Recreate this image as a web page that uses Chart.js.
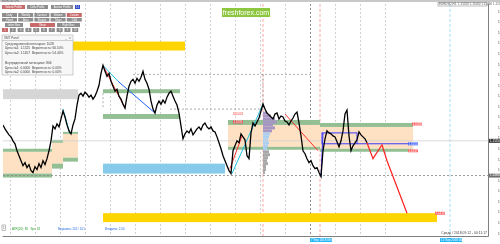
<!DOCTYPE html>
<html>
<head>
<meta charset="utf-8">
<script src="https://cdn.jsdelivr.net/npm/chart.js@4.4.1/dist/chart.umd.min.js"></script>
<style>
  html, body { margin: 0; padding: 0; background: #fff; }
  #wrap { width: 500px; height: 244px; }
</style>
</head>
<body>
<div id="wrap"><canvas id="chart" width="500" height="244"></canvas></div>
<script>
// EURUSD close, one value per bar (bar 0 = left edge)
const closePrices = [
  1.15859, 1.15784, 1.15727, 1.15671, 1.15633, 1.15558, 1.15502, 1.15370, 1.15276, 1.15182,
  1.15088, 1.15145, 1.15051, 1.15107, 1.14994, 1.14957, 1.15070, 1.15013, 1.15126, 1.15051,
  1.15182, 1.15107, 1.15220, 1.15370, 1.15558, 1.15840, 1.15784, 1.15878, 1.15821, 1.15972,
  1.16122, 1.16009, 1.15859, 1.15746, 1.15690, 1.15859, 1.15972, 1.16235, 1.16422, 1.16460,
  1.16404, 1.16479, 1.16441, 1.16385, 1.16422, 1.16347, 1.16404, 1.16498, 1.16610, 1.16836,
  1.16986, 1.16873, 1.16780, 1.16836, 1.16686, 1.16592, 1.16498, 1.16535, 1.16404, 1.16347,
  1.16253, 1.16178, 1.16404, 1.16592, 1.16686, 1.16723, 1.16648, 1.16742, 1.16686, 1.16761,
  1.16873, 1.16723, 1.16648, 1.16535, 1.16310, 1.16159, 1.16084, 1.16235, 1.16310, 1.16253,
  1.16329, 1.16272, 1.16385, 1.16460, 1.16498, 1.16404, 1.16310, 1.16235, 1.16084, 1.15840,
  1.15596, 1.15690, 1.15746, 1.15708, 1.15784, 1.15671, 1.15727, 1.15784, 1.15821, 1.15765,
  1.15859, 1.15896, 1.15821, 1.15784, 1.15821, 1.15746, 1.15727, 1.15633, 1.15521, 1.15408,
  1.15276, 1.15182, 1.15088, 1.14994, 1.14938, 1.15370, 1.15464, 1.15558, 1.15521, 1.15690,
  1.15633, 1.15577, 1.15276, 1.15220, 1.15708, 1.15896, 1.15840, 1.15915, 1.15990, 1.16122,
  1.16253, 1.16159, 1.16084, 1.16047, 1.16009, 1.15972, 1.16065, 1.16084, 1.15972, 1.16028,
  1.16009, 1.15934, 1.15915, 1.15859, 1.15934, 1.15990, 1.16065, 1.16103, 1.15896, 1.15652,
  1.15370, 1.15314, 1.15220, 1.15145, 1.15182, 1.15088, 1.15032, 1.15051, 1.14957, 1.14882,
  1.15370, 1.15596, 1.15746, 1.15708, 1.15690, 1.15652, 1.15633, 1.15539, 1.15445, 1.15558,
  1.15746, 1.16065, 1.16141, 1.15652, 1.15370, 1.15464, 1.15521, 1.15577, 1.15727, 1.15671,
  1.15633, 1.15596, 1.15521
];

// red forecast zigzag
const projectionBars = [182, 185, 189.5, 192, 202];
const projectionPrices = [1.15521, 1.15220, 1.15483, 1.15182, 1.14188];

const dateLabels = [
  '13 Aug 2018', '14 Aug 05:00', '15 Aug 05:00', '16 Aug 05:00', '17 Aug 05:00', '20 Aug 05:00',
  '21 Aug 05:00', '22 Aug 05:00', '23 Aug 05:00', '24 Aug 05:00', '27 Aug 05:00', '28 Aug 05:00',
  '29 Aug 05:00', '30 Aug 05:00', '31 Aug 05:00', '3 Sep 05:00', '4 Sep 05:00', '5 Sep 05:00',
  '6 Sep 05:00', '7 Sep 05:00', '10 Sep 05:00', '11 Sep 05:00'
];
const dateStep = 25 / 3;

const priceTicks = [
  1.1800, 1.1780, 1.1760, 1.1740, 1.1720, 1.1700, 1.1680, 1.1660, 1.1640, 1.1620, 1.1600,
  1.1580, 1.1560, 1.1540, 1.1520, 1.1500, 1.1480, 1.1460, 1.1440, 1.1420, 1.1400, 1.1380
];

// zones: [barFrom, barTo, priceTop, priceBottom]
const yellowZones = [[0, 91, 1.17437, 1.17268], [50, 217, 1.14188, 1.14019]];
const blueZone = [50, 111, 1.15126, 1.14938];
const grayZone = [0, 37.5, 1.16535, 1.16347];
const greenStrips = [[50, 88.5, 1.16535, 1.16460], [50, 88.5, 1.16065, 1.15972]];
// demand zones: [barFrom, barTo, greenTop, orangeTop, orangeBottom, greenBottom]
const demandZones = [
  [0, 24.5, 1.15408, 1.15351, 1.14938, 1.14863],
  [24.5, 30, 1.15577, 1.15521, 1.15126, 1.15032],
  [30, 37.5, 1.15727, 1.15690, 1.15239, 1.15164],
  [112.5, 158.5, 1.15953, 1.15859, 1.15445, 1.15389],
  [158.5, 205, 1.15896, 1.15821, 1.15408, 1.15351]
];
// zigzag segments: [bar0, price0, bar1, price1, colour]
const zigzags = [
  [50, 1.16986, 61, 1.16178, '#ff3030'],
  [50, 1.16986, 57.5, 1.16686, '#20c0e0'],
  [57.5, 1.16686, 76, 1.16084, '#2060ff'],
  [30, 1.16159, 33.5, 1.15690, '#20c0e0'],
  [113.5, 1.15032, 119.5, 1.15652, '#ff3030'],
  [114.5, 1.14938, 130, 1.16253, '#20c0e0'],
  [141, 1.16065, 157.5, 1.15370, '#ff3030'],
  [159, 1.14882, 160, 1.15708, '#3030ff']
];
// volume profile next to the red marker line
const profileStart = 130;
const profileLevels = [
  1.16084, 1.16028, 1.15972, 1.15915, 1.15859, 1.15802, 1.15746, 1.15690, 1.15633, 1.15577,
  1.15521, 1.15464, 1.15408, 1.15351, 1.15295, 1.15239, 1.15182, 1.15126, 1.15070, 1.15013, 1.14957
];
const profileWidths = [2, 4, 6, 7, 5, 6, 4.5, 3.5, 3, 2.5, 3, 2.5, 2, 3, 3.5, 2.5, 2, 2.5, 1.5, 1.5, 1];

const levelTags = [
  [207, 1.15877, '#ff6060'], [205, 1.15502, '#4060ff'], [205, 1.15370, '#ff6060'],
  [218.5, 1.14188, '#ff6060'], [117.5, 1.16075, '#ffb0b0'], [117.5, 1.15915, '#e05050']
];

const bidPrice = 1.15558;
const stopPrice = 1.14900;
const gridBars = [3.5, 16, 28.5, 41, 53.5, 66, 78.5, 91, 103.5, 116, 128.5, 141, 153.5, 166, 178.5, 191];
const markerBars = [130, 158.5];
const nowBar = 223.5;

const FONT = '"Liberation Sans", Arial, sans-serif';

const overlay = {
  id: 'overlay',
  beforeDatasetsDraw(chart) {
    const { ctx, chartArea: a, scales: { x, y } } = chart;
    const X = v => x.getPixelForValue(v);
    const Y = v => y.getPixelForValue(v);
    const box = (b0, b1, p0, p1, c) => { ctx.fillStyle = c; ctx.fillRect(X(b0), Y(p0), X(b1) - X(b0), Y(p1) - Y(p0)); };
    ctx.save();
    ctx.beginPath(); ctx.rect(a.left, a.top, a.right - a.left, a.bottom - a.top); ctx.clip();

    // vertical grid
    ctx.lineWidth = 0.8;
    gridBars.forEach(b => {
      ctx.strokeStyle = b === 153.5 ? '#707070' : '#c4c4c4';
      ctx.setLineDash([2, 2]);
      ctx.beginPath(); ctx.moveTo(Math.round(X(b)) + 0.5, a.top); ctx.lineTo(Math.round(X(b)) + 0.5, a.bottom); ctx.stroke();
    });
    ctx.strokeStyle = '#ff9090'; ctx.setLineDash([3, 2]);
    markerBars.forEach(b => { ctx.beginPath(); ctx.moveTo(X(b), a.top); ctx.lineTo(X(b), a.bottom); ctx.stroke(); });
    ctx.strokeStyle = '#8fd3f5';
    ctx.beginPath(); ctx.moveTo(X(nowBar), a.top); ctx.lineTo(X(nowBar), a.bottom); ctx.stroke();

    // zones
    yellowZones.forEach(z => box(z[0], z[1], z[2], z[3], '#ffd500'));
    box(blueZone[0], blueZone[1], blueZone[2], blueZone[3], '#87cbeb');
    box(grayZone[0], grayZone[1], grayZone[2], grayZone[3], '#d6d6d6');
    greenStrips.forEach(z => box(z[0], z[1], z[2], z[3], '#93bf93'));
    demandZones.forEach(z => {
      box(z[0], z[1], z[3], z[4], '#fde1c2');
      box(z[0], z[1], z[2], z[3], '#93bf93');
      box(z[0], z[1], z[4], z[5], '#93bf93');
    });

    // volume profile
    profileLevels.forEach((p, k) => {
      const c = k < 7 ? '#a795c4' : (k < 13 ? '#a9d0f2' : '#a8a8a8');
      box(profileStart, profileStart + profileWidths[k], p + 0.00028, p - 0.00028, c);
    });

    // dashed horizontals
    ctx.setLineDash([2, 2]); ctx.strokeStyle = '#9a9a9a'; ctx.lineWidth = 0.8;
    const hline = (b0, b1, p) => { ctx.beginPath(); ctx.moveTo(X(b0), Y(p)); ctx.lineTo(X(b1), Y(p)); ctx.stroke(); };
    const vline = (b, p0, p1) => { ctx.beginPath(); ctx.moveTo(X(b), Y(p0)); ctx.lineTo(X(b), Y(p1)); ctx.stroke(); };
    hline(65, 153.5, 1.16817);
    hline(83.5, 130, 1.16159);
    vline(50, 1.16460, 1.16159);
    vline(130, 1.16817, 1.16159);
    ctx.strokeStyle = '#8a8a8a';
    hline(0, 243, stopPrice);
    ctx.setLineDash([]); ctx.strokeStyle = '#d0d0d0';
    hline(0, 243, bidPrice);

    // zigzags and blue frame
    ctx.lineWidth = 1;
    zigzags.forEach(s => {
      ctx.strokeStyle = s[4];
      ctx.beginPath(); ctx.moveTo(X(s[0]), Y(s[1])); ctx.lineTo(X(s[2]), Y(s[3])); ctx.stroke();
    });
    ctx.strokeStyle = '#3a3aff';
    ctx.strokeRect(X(159.5), Y(1.15708), X(177) - X(159.5), Y(1.15502) - Y(1.15708));
    hline(177, 205, 1.15502);
    ctx.restore();
  },
  afterDraw(chart) {
    const { ctx, chartArea: a, scales: { x, y } } = chart;
    const X = v => x.getPixelForValue(v);
    const Y = v => y.getPixelForValue(v);
    ctx.save();
    // frame
    ctx.strokeStyle = '#808080'; ctx.lineWidth = 1;
    ctx.beginPath();
    ctx.moveTo(a.left - 0.5, a.bottom + 0.5); ctx.lineTo(a.right + 0.5, a.bottom + 0.5); ctx.lineTo(a.right + 0.5, a.top);
    ctx.stroke();
    ctx.fillStyle = '#c8c8c8'; ctx.fillRect(0, 0, 500, 2);

    // level tags
    ctx.font = '3px ' + FONT; ctx.textBaseline = 'middle'; ctx.textAlign = 'center';
    levelTags.forEach(t => {
      ctx.fillStyle = t[2];
      ctx.fillRect(X(t[0]) - 5, Y(t[1]) - 1.5, 10, 3);
      ctx.fillStyle = '#fff';
      ctx.fillText(t[1].toFixed(4), X(t[0]), Y(t[1]));
    });

    // axis highlights
    const tag = (py, bg, txt) => {
      ctx.fillStyle = bg; ctx.fillRect(a.right + 1, py - 2, 11, 4);
      ctx.fillStyle = '#fff'; ctx.textAlign = 'left'; ctx.fillText(txt, a.right + 2, py);
    };
    tag(Y(bidPrice), '#303030', bidPrice.toFixed(5));
    tag(Y(stopPrice), '#707070', stopPrice.toFixed(5));
    const dtag = (b, txt) => {
      ctx.fillStyle = '#29b6f6'; ctx.fillRect(X(b) - 10, a.bottom + 2, 22, 4);
      ctx.fillStyle = '#fff'; ctx.textAlign = 'left'; ctx.fillText(txt, X(b) - 9, a.bottom + 4);
    };
    dtag(158.5, '7 Sep 2018 09:00');
    dtag(nowBar, '12 Sep 2018 00:00');

    // watermark
    ctx.fillStyle = '#8dc63f'; ctx.fillRect(222, 8, 48, 9);
    ctx.fillStyle = '#fff'; ctx.font = '7px ' + FONT; ctx.textAlign = 'center';
    ctx.fillText('freshforex.com', 246, 12.8);

    // top-left control panel
    ctx.font = '2.6px ' + FONT;
    const btn = (x0, y0, w, h, txt, bg) => {
      ctx.fillStyle = bg; ctx.fillRect(x0, y0, w, h);
      ctx.fillStyle = '#fff'; ctx.textAlign = 'center'; ctx.fillText(txt, x0 + w / 2, y0 + h / 2 + 0.2);
    };
    const G = '#8e8e8e', R = '#c86a6a';
    btn(2, 5, 23, 4, 'Volume Profile', R); btn(27, 5, 21, 4, 'Delta Profile', G);
    btn(51, 5, 22, 4, 'Auction Profile', G); btn(75, 5, 5, 4, '1:1', '#3048c8');
    ['Daily', 'Weekly', 'Contract', 'Volume', 'Custom'].forEach((t, k) => btn(2 + k * 16.2, 13, 15, 4, t, k === 4 ? R : G));
    ['Fixed', 'Area', 'Europe', 'Tokyo', 'Chill'].forEach((t, k) => btn(2 + k * 16.2, 18, 15, 3.5, t, G));
    btn(5, 23, 18, 4, 'Letter Bars', G); btn(30, 23, 25, 4, 'Share', R); btn(57, 23, 23, 4, 'Right Bars', G);
    for (let k = 0; k < 10; k++) btn(2 + k * 7.8, 28, 6, 4, String(k + 1), k === 0 ? R : G);

    ctx.fillStyle = '#f7f7f7'; ctx.fillRect(2, 35, 71, 40);
    ctx.strokeStyle = '#b0b0b0'; ctx.lineWidth = 0.6; ctx.strokeRect(2, 35, 71, 40);
    ctx.fillStyle = '#505050'; ctx.textAlign = 'left'; ctx.font = '3px ' + FONT;
    ctx.fillText('SMT Panel', 4, 38.5); ctx.fillText('_   x', 65, 38.5);
    ctx.beginPath(); ctx.moveTo(2, 40.5); ctx.lineTo(73, 40.5); ctx.stroke();
    ctx.font = '3.2px ' + FONT; ctx.fillStyle = '#404040';
    ['Среднедневной потенциал: 1028', 'Цель №1: 1.1525  Вероятность: 66.50%', 'Цель №2: 1.1457  Вероятность: 54.40%',
     '', 'Внутридневной потенциал: 806', 'Цель №1: 0.0000  Вероятность: 0.00%', 'Цель №2: 0.0000  Вероятность: 0.00%']
      .forEach((t, k) => ctx.fillText(t, 5, 44 + k * 4.6 + (k > 3 ? 1 : 0)));

    // status texts
    ctx.font = '3px ' + FONT; ctx.fillStyle = '#606060';
    ctx.fillText('EURUSD,H1', 2, 1);
    ctx.strokeStyle = '#909090'; ctx.strokeRect(438, 2.5, 49, 3.5);
    ctx.fillText('EURUSD,H1  1.15558 1.15580 1.15490 1.15510', 439, 4.3);
    ctx.strokeRect(2, 225, 3.5, 5.5); ctx.fillText('1', 3, 228);
    ctx.fillStyle = '#2e9a2e'; ctx.fillText('ATR(20): 80   Spr: 18', 12, 229);
    ctx.fillStyle = '#2a6de0'; ctx.fillText('Вершина: 202 / 101', 58, 229); ctx.fillText('Впадина: 2.00', 105, 229);
    ctx.fillStyle = '#404040'; ctx.textAlign = 'right'; ctx.font = '3.4px ' + FONT;
    ctx.fillText('Среда / 2018.09.12 - 00:11:17', 487, 233);
    ctx.restore();
  }
};

new Chart(document.getElementById('chart'), {
  type: 'line',
  data: {
    datasets: [
      {
        label: 'EURUSD',
        data: closePrices.map((p, i) => ({ x: i, y: p })),
        borderColor: '#000',
        borderWidth: 1.3,
        pointRadius: 0,
        tension: 0
      },
      {
        label: 'Forecast',
        data: projectionBars.map((b, k) => ({ x: b, y: projectionPrices[k] })),
        borderColor: '#ff2020',
        borderWidth: 1.2,
        pointRadius: 0,
        tension: 0
      }
    ]
  },
  options: {
    responsive: false,
    animation: false,
    events: [],
    layout: { padding: { left: 3, top: 2, right: 0, bottom: 0 } },
    plugins: { legend: { display: false }, tooltip: { enabled: false } },
    scales: {
      x: {
        type: 'linear',
        min: 0,
        max: 242.5,
        grid: { display: false },
        border: { display: false },
        afterBuildTicks: s => { s.ticks = dateLabels.map((_, k) => ({ value: k * dateStep })); },
        afterFit: s => { s.height = 8; },
        ticks: {
          autoSkip: false,
          maxRotation: 0,
          align: 'start',
          padding: 1,
          color: '#303030',
          font: { size: 3.2, family: FONT },
          callback: (v, idx) => dateLabels[idx]
        }
      },
      y: {
        type: 'linear',
        position: 'right',
        min: 1.13756,
        max: 1.18150,
        grid: { display: false },
        border: { display: false },
        afterBuildTicks: s => { s.ticks = priceTicks.map(v => ({ value: v })); },
        afterFit: s => { s.width = 12; },
        ticks: {
          padding: 2,
          color: '#303030',
          font: { size: 3.2, family: FONT },
          callback: v => v.toFixed(4)
        }
      }
    }
  },
  plugins: [overlay]
});
</script>
</body>
</html>
